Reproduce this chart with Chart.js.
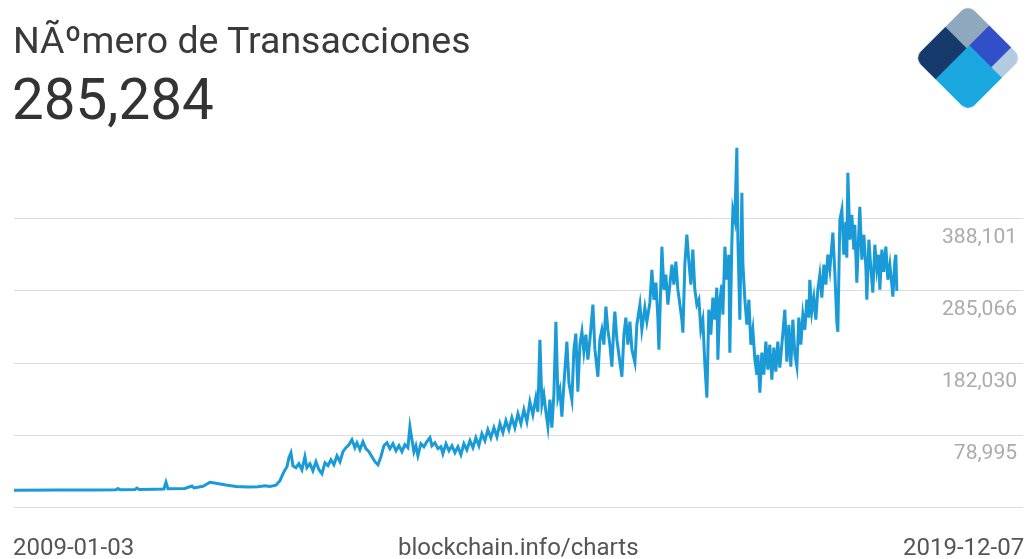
<!DOCTYPE html>
<html>
<head>
<meta charset="utf-8">
<script src="https://cdn.jsdelivr.net/npm/chart.js@4.4.1/dist/chart.umd.min.js"></script>
<style>
  body { margin: 0; background: #fff; font-family: Roboto, sans-serif; }
  #wrap { position: absolute; left: 0; top: 0; width: 1027px; height: 559px; overflow: hidden; }
  #chartBox { position: absolute; left: 0; top: 0; width: 1027px; height: 559px; }
  .txt { position: absolute; line-height: 1; white-space: nowrap; }
  #title { left: 13px; top: 22px; font-size: 37.5px; color: #3a3a3a; }
  #current { left: 12px; top: 72px; font-size: 56.5px; color: #333; }
  #dateStart { left: 13px; top: 535px; font-size: 24px; color: #555; }
  #source { left: 398px; top: 535px; font-size: 24px; color: #555; }
  #dateEnd { left: 903px; top: 535px; font-size: 24px; color: #555; }
  /* logo: rotated square split in blocks */
  #logo { position: absolute; left: 930px; top: 20px; width: 76px; height: 76px;
          transform: rotate(45deg); border-radius: 9px; overflow: hidden; }
  #logo div { position: absolute; }
</style>
</head>
<body>
<div id="wrap">
  <div id="chartBox"><canvas id="txChart"></canvas></div>
  <div class="txt" id="title">NÃºmero de Transacciones</div>
  <div class="txt" id="current">285,284</div>
  <div class="txt" id="dateStart">2009-01-03</div>
  <div class="txt" id="source">blockchain.info/charts</div>
  <div class="txt" id="dateEnd">2019-12-07</div>
  <div id="logo">
    <div style="left:0;top:0;width:40%;height:42%;background:#8fa8bd"></div>
    <div style="left:40%;top:0;width:40%;height:37%;background:#3150c8"></div>
    <div style="left:80%;top:0;width:20%;height:37%;background:#b2cbe0"></div>
    <div style="left:0;top:42%;width:40%;height:58%;background:#163a6b"></div>
    <div style="left:40%;top:37%;width:60%;height:63%;background:#1ba8e1"></div>
  </div>
</div>

<script>
// Data (decimal year, transactions per day)
const years = [
  2009.000, 2009.569, 2010.002, 2010.262, 2010.287, 2010.312, 2010.498, 2010.522, 2010.547, 2010.745,
  2010.856, 2010.881, 2010.906, 2011.116, 2011.203, 2011.228, 2011.339, 2011.426, 2011.500, 2011.624,
  2011.748, 2011.896, 2012.020, 2012.106, 2012.168, 2012.243, 2012.292, 2012.342, 2012.379, 2012.403,
  2012.428, 2012.453, 2012.490, 2012.527, 2012.564, 2012.601, 2012.626, 2012.663, 2012.700, 2012.738,
  2012.775, 2012.812, 2012.849, 2012.886, 2012.923, 2012.960, 2012.998, 2013.035, 2013.072, 2013.109,
  2013.146, 2013.183, 2013.220, 2013.245, 2013.282, 2013.319, 2013.356, 2013.394, 2013.431, 2013.468,
  2013.505, 2013.542, 2013.579, 2013.616, 2013.653, 2013.691, 2013.728, 2013.765, 2013.802, 2013.839,
  2013.876, 2013.901, 2013.926, 2013.950, 2013.975, 2014.000, 2014.037, 2014.074, 2014.111, 2014.149,
  2014.173, 2014.210, 2014.248, 2014.285, 2014.309, 2014.347, 2014.384, 2014.421, 2014.458, 2014.495,
  2014.532, 2014.569, 2014.606, 2014.644, 2014.681, 2014.718, 2014.755, 2014.792, 2014.829, 2014.866,
  2014.903, 2014.941, 2014.978, 2015.015, 2015.052, 2015.089, 2015.126, 2015.163, 2015.200, 2015.238,
  2015.275, 2015.312, 2015.349, 2015.386, 2015.423, 2015.460, 2015.485, 2015.510, 2015.535, 2015.559,
  2015.584, 2015.609, 2015.634, 2015.658, 2015.683, 2015.708, 2015.733, 2015.757, 2015.782, 2015.807,
  2015.844, 2015.869, 2015.906, 2015.931, 2015.955, 2015.980, 2016.005, 2016.030, 2016.054, 2016.079,
  2016.104, 2016.129, 2016.166, 2016.191, 2016.228, 2016.252, 2016.277, 2016.302, 2016.327, 2016.351,
  2016.376, 2016.401, 2016.426, 2016.438, 2016.463, 2016.488, 2016.525, 2016.550, 2016.574, 2016.599,
  2016.624, 2016.649, 2016.686, 2016.710, 2016.748, 2016.772, 2016.809, 2016.834, 2016.871, 2016.896,
  2016.921, 2016.946, 2016.970, 2016.983, 2017.020, 2017.045, 2017.069, 2017.094, 2017.119, 2017.144,
  2017.168, 2017.193, 2017.218, 2017.243, 2017.267, 2017.280, 2017.304, 2017.329, 2017.354, 2017.379,
  2017.403, 2017.428, 2017.453, 2017.478, 2017.502, 2017.527, 2017.552, 2017.577, 2017.601, 2017.626,
  2017.651, 2017.676, 2017.700, 2017.713, 2017.738, 2017.762, 2017.775, 2017.800, 2017.824, 2017.849,
  2017.861, 2017.886, 2017.899, 2017.923, 2017.948, 2017.960, 2017.985, 2018.010, 2018.022, 2018.047,
  2018.072, 2018.097, 2018.121, 2018.146, 2018.171, 2018.196, 2018.208, 2018.233, 2018.257, 2018.282,
  2018.307, 2018.332, 2018.356, 2018.381, 2018.406, 2018.431, 2018.455, 2018.480, 2018.505, 2018.542,
  2018.567, 2018.592, 2018.616, 2018.641, 2018.666, 2018.691, 2018.715, 2018.740, 2018.765, 2018.790,
  2018.814, 2018.839, 2018.851, 2018.876, 2018.901, 2018.926, 2018.950, 2018.975, 2019.000, 2019.025,
  2019.050, 2019.074, 2019.099, 2019.124, 2019.136, 2019.161, 2019.186, 2019.198, 2019.223, 2019.248,
  2019.272, 2019.297, 2019.309, 2019.322, 2019.347, 2019.371, 2019.396, 2019.408, 2019.433, 2019.470,
  2019.495, 2019.520, 2019.545, 2019.557, 2019.582, 2019.606, 2019.631, 2019.656, 2019.681, 2019.705,
  2019.718, 2019.743, 2019.767, 2019.792, 2019.817, 2019.842, 2019.866, 2019.879, 2019.903, 2019.916,
  2019.928
];

const transactions = [
  100, 200, 400, 500, 2500, 700, 1000, 3100, 1100, 1400,
  1800, 11500, 2200, 2500, 6000, 3200, 5700, 11400, 10000, 7500,
  5400, 4600, 5000, 6500, 5300, 7200, 13600, 26500, 33600, 46500,
  53600, 35000, 32200, 37900, 29300, 48000, 32200, 37900, 27900, 40800,
  29300, 23600, 39300, 35100, 43600, 36500, 49300, 40800, 55100, 60800,
  65100, 72300, 60800, 67900, 58000, 69400, 59400, 55100, 47900, 40800,
  36500, 47900, 63700, 68000, 59400, 66500, 56500, 63700, 55100, 65100,
  60800, 90900, 72300, 55100, 63700, 49400, 66500, 62200, 69400, 75100,
  63700, 68000, 59400, 62200, 52200, 66500, 56500, 63700, 53700, 62200,
  50800, 66500, 57900, 70800, 60800, 75100, 63700, 80800, 70800, 86600,
  75100, 89500, 76600, 95200, 82300, 99500, 86600, 103800, 89500, 109500,
  95200, 115200, 98100, 126600, 108000, 132400, 112300, 215400, 122400, 136700,
  112300, 90900, 129500, 89500, 136700, 241100, 132400, 143800, 105200, 151000,
  212500, 153800, 129500, 201100, 224000, 141000, 208300, 226800, 198200, 222500,
  186800, 215400, 265500, 201100, 162400, 215400, 229700, 208300, 262600, 229700,
  208300, 176700, 236800, 255500, 215400, 193900, 162400, 222500, 246900, 208300,
  241100, 201100, 182500, 236800, 265500, 229700, 261200, 241100, 268300, 315500,
  272600, 297000, 246900, 201100, 348500, 286900, 308400, 265500, 294100, 322700,
  294100, 327000, 286900, 265500, 244000, 225400, 322700, 365600, 327000, 294100,
  344200, 286900, 265500, 272600, 229700, 244000, 179600, 132400, 258300, 222500,
  275500, 244000, 289800, 186800, 272600, 294100, 251200, 348500, 301200, 337000,
  196800, 354200, 401400, 387100, 490100, 362800, 244000, 425700, 325600, 272600,
  236800, 272600, 208200, 229700, 186800, 165300, 193900, 139500, 196800, 165300,
  212500, 172400, 208200, 158100, 203900, 169600, 212500, 175300, 208200, 258300,
  183900, 236800, 176700, 244000, 193900, 176700, 246900, 208200, 251100, 229700,
  272600, 246900, 301200, 255400, 275500, 244000, 286900, 308400, 275500, 322700,
  294100, 337000, 315500, 351300, 368500, 311300, 239700, 226800, 387100, 401400,
  337000, 384200, 332700, 454300, 358500, 394200, 344200, 379900, 296900, 405700,
  329900, 365600, 318400, 272600, 358500, 318400, 282600, 351300, 315500, 337000,
  286900, 344200, 312600, 348500, 301200, 322700, 294100, 276900, 326900, 337000,
  285284
];

// Horizontal grid lines and their labels (the lowest one has no label)
const gridValues = [-24040, 78995, 182030, 285066, 388101];
const gridLabels = ['', '78,995', '182,030', '285,066', '388,101'];

// Axis range
const yMin = -24040;
const yMax = 491136;
const xMin = 2009.0;
const xMax = 2021.49;

const points = years.map((yr, i) => ({ x: yr, y: transactions[i] }));

const ctx = document.getElementById('txChart').getContext('2d');
new Chart(ctx, {
  type: 'line',
  data: {
    datasets: [{
      data: points,
      borderColor: '#1a9bd7',
      borderWidth: 3,
      pointRadius: 0,
      tension: 0,
      fill: false
    }]
  },
  options: {
    responsive: true,
    maintainAspectRatio: false,
    animation: false,
    events: [],
    layout: { padding: { left: 14, right: 0, top: 147, bottom: 52 } },
    plugins: { legend: { display: false }, tooltip: { enabled: false } },
    scales: {
      x: {
        type: 'linear',
        min: xMin,
        max: xMax,
        display: false
      },
      y: {
        type: 'linear',
        position: 'right',
        min: yMin,
        max: yMax,
        afterBuildTicks: axis => {
          axis.ticks = gridValues.map(v => ({ value: v }));
        },
        // keep the axis thin so the grid runs almost to the edge
        afterFit: axis => { axis.width = 4; },
        border: { display: false },
        grid: { color: '#dcdcdc', lineWidth: 1, drawTicks: false },
        ticks: {
          mirror: true,
          padding: -6,
          labelOffset: 19,
          color: '#ababab',
          font: { family: 'Roboto', size: 21 },
          callback: (value, index) => gridLabels[index]
        }
      }
    }
  }
});
</script>
</body>
</html>
